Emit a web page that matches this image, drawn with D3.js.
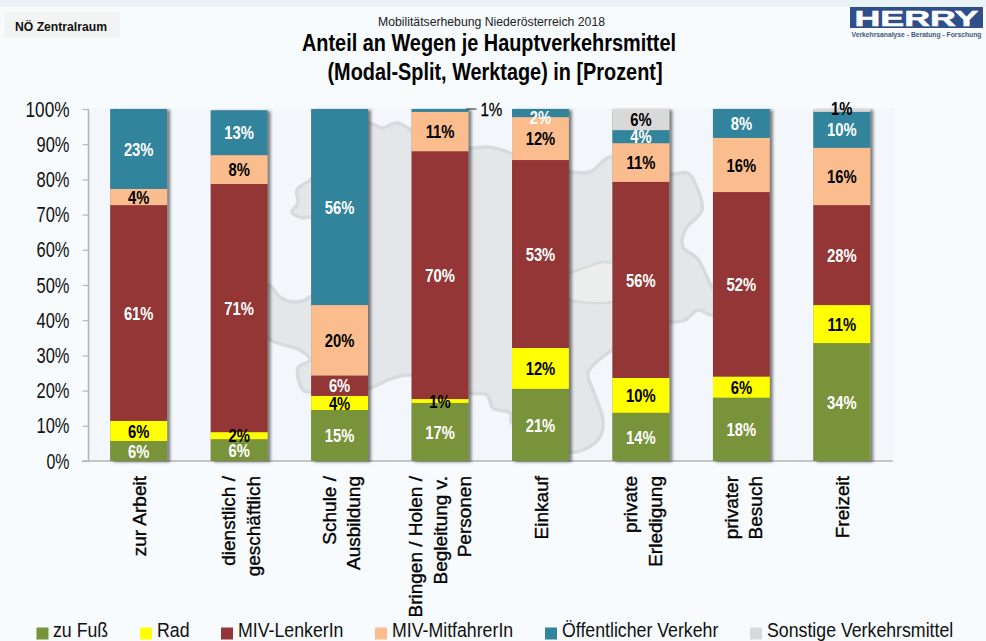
<!DOCTYPE html>
<html><head><meta charset="utf-8"><script src="https://cdn.jsdelivr.net/npm/d3@7"></script>
<style>html,body{margin:0;padding:0;background:#f6fafc;overflow:hidden}svg{display:block}text{font-family:"Liberation Sans",Arial,sans-serif}</style>
</head><body><svg id="c" width="986" height="641"></svg>
<script>
const categories=[["zur Arbeit"],["dienstlich /","geschäftlich"],["Schule /","Ausbildung"],["Bringen / Holen /","Begleitung v.","Personen"],["Einkauf"],["private","Erledigung"],["privater","Besuch"],["Freizeit"]];
const seriesNames=["zu Fuß","Rad","MIV-LenkerIn","MIV-MitfahrerIn","Öffentlicher Verkehr","Sonstige Verkehrsmittel"];
const seriesColors=["#789339","#ffff00","#933635","#fbbd8d","#31849b","#d9d9d9"];
const labelColors=["#fff","#000","#fff","#000","#fff","#000"];
const zuFuss=[5.7,6.2,14.5,16.5,20.5,13.7,18,33.5];
const rad=[5.7,2,4,1.1,11.6,9.9,6,10.8];
const lenker=[61.3,70.5,5.8,70.4,53.4,55.7,52.4,28.4];
const mitfahrer=[4.6,8.2,20,11.2,12.2,11,15.4,16.3];
const oev=[22.7,12.7,55.7,0.8,2.3,3.7,8.2,10.2];
const sonstige=[0,0,0,0,0,6,0,0.8];
const seriesValues=[zuFuss,rad,lenker,mitfahrer,oev,sonstige];
const labFuss=["6%","6%","15%","17%","21%","14%","18%","34%"];
const labRad=["6%","2%","4%","1%","12%","10%","6%","11%"];
const labLenker=["61%","71%","6%","70%","53%","56%","52%","28%"];
const labMit=["4%","8%","20%","11%","12%","11%","16%","16%"];
const labOev=["23%","13%","56%","","2%","4%","8%","10%"];
const labSonst=["","","","","","6%","","1%"];
const seriesLabels=[labFuss,labRad,labLenker,labMit,labOev,labSonst];
const yTicks=[0,10,20,30,40,50,60,70,80,90,100];

const svg=d3.select("#c");
const defs=svg.append("defs");
const f=defs.append("filter").attr("id","sh").attr("x","-10%").attr("width","125%").attr("y","-2%").attr("height","104%");
f.append("feDropShadow").attr("dx",3).attr("dy",1).attr("stdDeviation",1.4).attr("flood-color","#000").attr("flood-opacity",0.5);

// background
svg.append("rect").attr("width",986).attr("height",641).attr("fill","#f7fbfd");
svg.append("rect").attr("width",986).attr("height",7).attr("fill","#e9f3f7");
svg.append("rect").attr("x",88).attr("y",108).attr("width",806).attr("height",353).attr("fill","#f3f7fb");

// map silhouette (decorative backdrop)
const mapOutline=[[250,300],[268,285],[280,297],[293,302],[310,297],[335,257],[310,217],[303,218],[292,212],[298,203],[297,190],[310,180],[340,150],[368,123],[382,128],[397,123],[420,135],[470,148],[487,147],[510,153],[535,170],[570,172],[590,172],[610,157],[640,165],[669,174],[688,173],[695,183],[702,210],[685,230],[683,247],[697,258],[703,268],[712,287],[724,300],[712,315],[698,310],[685,320],[669,323],[640,335],[612,350],[588,373],[593,390],[603,420],[600,437],[583,450],[570,452],[540,440],[512,423],[510,413],[493,408],[487,395],[470,393],[410,375],[393,378],[370,388],[340,395],[310,392],[303,390],[298,368],[310,360],[300,350],[268,338]];
const line=d3.line().curve(d3.curveCatmullRomClosed.alpha(0.5));
svg.append("path").attr("d",line(mapOutline)).attr("fill","#e4e7e9").attr("stroke","#d8dbdd").attr("stroke-width",3.5);
const vienna=[[530,285],[570,273],[603,262],[612,263],[660,280],[612,302],[570,300]];
svg.append("path").attr("d",line(vienna)).attr("fill","#eceeee").attr("stroke","#d8dbdd").attr("stroke-width",2.5);

const x=d3.scaleBand().domain(d3.range(categories.length)).range([88.5,892]).paddingInner(0.4345).paddingOuter(0.217);
const y=d3.scaleLinear().domain([0,100]).range([461,109]);

// axes
const ya=svg.append("g").attr("transform","translate(88.5,0)").call(d3.axisLeft(y).tickValues(yTicks).tickSize(6).tickFormat(d=>d+"%"));
ya.select(".domain").attr("stroke","#b5b5b5").attr("stroke-width",1.5).attr("d","M0,109V461");
ya.selectAll(".tick line").attr("stroke","#b5b5b5").attr("stroke-width",1.2);
ya.selectAll(".tick text").attr("x",-19).attr("font-size",22).attr("fill","#111").style("font-family","'Liberation Sans'").attr("textLength",d=>d==100?44:d==0?23:33).attr("lengthAdjust","spacingAndGlyphs");
svg.append("line").attr("x1",82).attr("x2",893).attr("y1",y(0)).attr("y2",y(0)).attr("stroke","#b5b5b5").attr("stroke-width",1.5);

// stacks
const stackKeys=d3.range(seriesNames.length);
const rows=categories.map((c,i)=>Object.fromEntries(stackKeys.map(k=>[k,seriesValues[k][i]])));
const stacked=d3.stack().keys(stackKeys)(rows);
const barG=svg.append("g");
categories.forEach((c,i)=>{
  const total=d3.sum(seriesValues,s=>s[i]);
  barG.append("rect").attr("x",x(i)).attr("width",x.bandwidth()).attr("y",y(total)).attr("height",y(0)-y(total)).attr("fill","#888").attr("filter","url(#sh)");
});
stacked.forEach((s,k)=>{
  barG.selectAll(null).data(s).join("rect").attr("x",(d,i)=>x(i)).attr("width",x.bandwidth())
   .attr("y",d=>y(d[1])).attr("height",d=>y(d[0])-y(d[1])).attr("fill",seriesColors[k]);
});
// data labels
const labelNudge={"4-4":4,"7-5":-2};
stacked.forEach((s,k)=>{
  barG.selectAll(null).data(s).join("text")
   .attr("transform",(d,i)=>{const cx=x(i)+x.bandwidth()/2,cy=(y(d[0])+y(d[1]))/2+(labelNudge[i+"-"+k]||0);return `translate(${cx},${cy}) scale(0.8,1)`;})
   .attr("dy","0.36em").attr("text-anchor","middle").attr("font-size",18.5).attr("font-weight","bold")
   .attr("fill",labelColors[k]).text((d,i)=>seriesLabels[k][i]);
});
// 1% leader label on the Bringen bar
const bi=3;
svg.append("line").attr("x1",x(bi)+x.bandwidth()-2).attr("x2",x(bi)+x.bandwidth()+8).attr("y1",y(100)).attr("y2",y(100)).attr("stroke","#222").attr("stroke-width",1);
svg.append("text").attr("transform",`translate(${x(bi)+x.bandwidth()+12},${y(100)+7}) scale(0.8,1)`).attr("font-size",19).attr("fill","#000").attr("stroke","#000").attr("stroke-width",0.25).text("1%");

// category labels
categories.forEach((c,i)=>{
  const cx=x(i)+x.bandwidth()/2+(c.length==2?2:c.length==1?1:0);
  const t=svg.append("text").attr("transform",`translate(${cx},476) rotate(-90)`).attr("text-anchor","end").attr("font-size",19).attr("fill","#000").attr("stroke","#000").attr("stroke-width",0.35);
  const lh=24.5;
  c.forEach((l,j)=>t.append("tspan").attr("x",0).attr("y",(j-(c.length-1)/2)*lh+6.5).text(l));
});

// legend
const legX=[36.5,140,221,375,545,750];
const lg=svg.append("g");
seriesNames.forEach((n,k)=>{
  lg.append("rect").attr("x",legX[k]).attr("y",627.5).attr("width",12).attr("height",12).attr("fill",seriesColors[k]);
  const tx=k==0?53:legX[k]+17;
  lg.append("text").attr("transform",`translate(${tx},637) scale(0.91,1)`).attr("font-size",19.5).attr("fill","#111").text(n);
});

// titles
svg.append("rect").attr("x",5).attr("y",12).attr("width",115).attr("height",25).attr("fill","#f2f3f3");
svg.append("text").attr("x",15).attr("y",31).attr("font-size",13).attr("font-weight","bold").attr("fill","#111").attr("textLength",92).attr("lengthAdjust","spacingAndGlyphs").text("NÖ Zentralraum");
svg.append("text").attr("x",491.5).attr("y",26).attr("text-anchor","middle").attr("font-size",13).attr("fill","#222").attr("textLength",227).attr("lengthAdjust","spacingAndGlyphs").text("Mobilitätserhebung Niederösterreich 2018");
svg.append("text").attr("x",489).attr("y",51).attr("text-anchor","middle").attr("font-size",23).attr("font-weight","bold").attr("fill","#000").attr("textLength",374).attr("lengthAdjust","spacingAndGlyphs").text("Anteil an Wegen je Hauptverkehrsmittel");
svg.append("text").attr("x",495).attr("y",80).attr("text-anchor","middle").attr("font-size",23).attr("font-weight","bold").attr("fill","#000").attr("textLength",335).attr("lengthAdjust","spacingAndGlyphs").text("(Modal-Split, Werktage) in [Prozent]");

// logo
svg.append("rect").attr("x",850).attr("y",7).attr("width",133).attr("height",21).attr("fill","#2f4f8a");
svg.append("text").attr("x",916.5).attr("y",25.5).attr("text-anchor","middle").attr("font-size",22).attr("font-weight","bold").attr("fill","#fff").attr("stroke","#fff").attr("stroke-width",0.5).attr("textLength",124).attr("lengthAdjust","spacingAndGlyphs").text("HERRY");
svg.append("text").attr("x",916.5).attr("y",37).attr("text-anchor","middle").attr("font-size",7).attr("font-weight","bold").attr("fill","#3f5a80").attr("textLength",130).attr("lengthAdjust","spacingAndGlyphs").text("Verkehrsanalyse - Beratung - Forschung");
</script></body></html>
